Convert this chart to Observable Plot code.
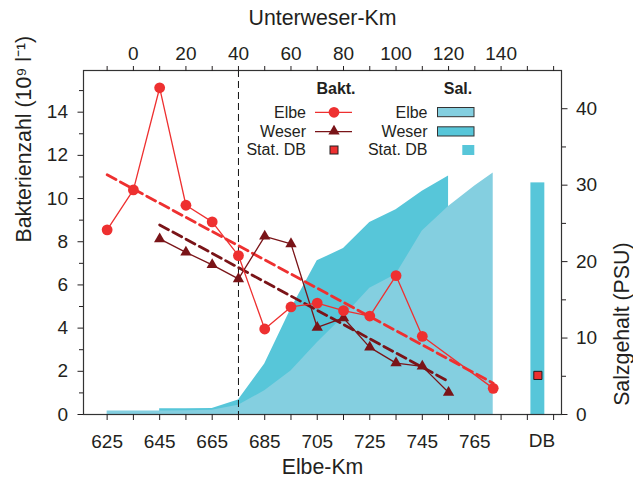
<!DOCTYPE html>
<html><head><meta charset="utf-8">
<script src="https://cdn.jsdelivr.net/npm/d3@7"></script>
<script src="https://cdn.jsdelivr.net/npm/@observablehq/plot@0.6"></script>
<style>body{margin:0;background:#fff} svg{display:block}</style>
</head><body><div id="chart"></div>
<script>
// ---- data ----
const elbeKm   = [625,635,645,655,665,675,685,695,705,715,725,735,745,772];
const elbeBakt = [8.55,10.40,15.13,9.69,8.92,7.36,3.96,4.98,5.16,4.81,4.56,6.43,3.62,1.21];
const weserKm   = [10,20,30,40,50,60,70,80,90,100,110,120];   // Unterweser-Km
const weserBakt = [8.13,7.51,6.93,6.28,8.25,7.90,4.03,4.47,3.11,2.38,2.23,1.02];
const elbeTrendKm = [625,772], elbeTrendBakt = [11.10,1.45];
const weserTrendKm = [10,120], weserTrendBakt = [8.78,1.53];
const elbeSalKm = [625,635,645,655,665,675,685,695,705,715,725,735,745,755,765,772];
const elbeSal   = [0.45,0.45,0.45,0.5,0.55,1.2,3.1,5.7,9.4,12.8,16.5,18.3,24.0,27.2,29.9,31.6];
const weserSalKm = [10,20,30,40,50,60,70,80,90,100,110,120];
const weserSal   = [0.75,0.75,0.8,1.9,6.6,13.8,20.1,21.7,25.1,26.8,29.2,31.2];
const dbSal = 30.3, dbBakt = 1.81;
const elbeTicks = [625,645,665,685,705,725,745,765];
const weserTicks = [0,20,40,60,80,100,120,140];
const psuTicks = [0,10,20,30,40];
const baktTicks = [0,2,4,6,8,10,12,14];

// ---- layout / styling ----
const WOFF = 635;          // Unterweser-Km 0 sits at Elbe-Km 635
const dbKm = 789;          // position of the station DB column
const yMax = 15.93, psuMax = 45, k = yMax/psuMax;
const RED = "#ee3030", DRED = "#7a1418", LBLUE = "#84cfe0", DBLUE = "#57c6d9", INK = "#231f20";
const FONT = "'Liberation Sans', Arial, Helvetica, sans-serif";

const elbe = elbeKm.map((x,i)=>({x, y: elbeBakt[i]}));
const weser = weserKm.map((w,i)=>({x: w+WOFF, y: weserBakt[i]}));
const elbeT = elbeTrendKm.map((x,i)=>({x, y: elbeTrendBakt[i]}));
const weserT = weserTrendKm.map((w,i)=>({x: w+WOFF, y: weserTrendBakt[i]}));
const eSal = elbeSalKm.map((x,i)=>({x, y: elbeSal[i]*k}));
const wSal = weserSalKm.map((w,i)=>({x: w+WOFF, y: weserSal[i]*k}));

const plot = Plot.plot({
  width: 633, height: 479,
  marginLeft: 83, marginRight: 72, marginTop: 70, marginBottom: 65,
  x: {domain: [616, 798]},
  y: {domain: [0, yMax]},
  style: {fontFamily: FONT, color: INK, background: "#fff"},
  marks: [
    Plot.areaY(wSal, {x: "x", y: "y", fill: DBLUE}),
    Plot.areaY(eSal, {x: "x", y: "y", fill: LBLUE}),
    Plot.rectY([dbSal], {x1: () => dbKm - 2.65, x2: () => dbKm + 2.65, y: d => d*k, fill: DBLUE}),
    Plot.ruleX([40], {x: d => d + WOFF, stroke: "#111", strokeWidth: 1, strokeDasharray: "7,4"}),
    Plot.line(elbeT, {x: "x", y: "y", stroke: RED, strokeWidth: 2.8, strokeDasharray: "10,5"}),
    Plot.line(weserT, {x: "x", y: "y", stroke: DRED, strokeWidth: 2.8, strokeDasharray: "10,5"}),
    Plot.line(weser, {x: "x", y: "y", stroke: DRED, strokeWidth: 1.3}),
    Plot.line(elbe, {x: "x", y: "y", stroke: RED, strokeWidth: 1.3}),
    Plot.dot(weser, {x: "x", y: "y", symbol: "triangle", r: 4.2, fill: DRED}),
    Plot.dot(elbe, {x: "x", y: "y", symbol: "circle", r: 5.4, fill: RED}),
    Plot.dot([dbBakt], {x: () => dbKm, y: d => d, symbol: "square", r: 4.6, fill: RED, stroke: INK, strokeWidth: 1}),
    Plot.frame({stroke: "#333", strokeWidth: 1.2}),
    // bottom axis (Elbe-Km)
    Plot.axisX({anchor: "bottom", ticks: d3.range(625, 796, 10), tickSize: 6, tickPadding: 14, fontSize: 19,
      tickFormat: d => elbeTicks.includes(d) ? String(d) : "", label: null}),
    // top axis (Unterweser-Km)
    Plot.axisX({anchor: "top", ticks: d3.range(-10, 161, 10).map(w => w + WOFF), tickSize: 5, tickPadding: 6, fontSize: 19,
      tickFormat: d => weserTicks.includes(d - WOFF) ? String(d - WOFF) : "", label: null}),
    // left axis (bacteria)
    Plot.axisY({anchor: "left", ticks: baktTicks, tickSize: 5.5, tickPadding: 10, fontSize: 19, label: null}),
    Plot.axisY({anchor: "left", ticks: [1,3,5,7,9,11,13,15], tickSize: 4, tickFormat: () => "", label: null}),
    // right axis (salinity)
    Plot.axisY({anchor: "right", ticks: psuTicks.map(v => v*k), tickSize: 5.5, tickPadding: 9, fontSize: 19,
      tickFormat: d => String(Math.round(d/k)), label: null}),
    Plot.axisY({anchor: "right", ticks: [5,15,25,35].map(v => v*k), tickSize: 4, tickFormat: () => "", label: null}),
    // titles
    Plot.text(["Unterweser-Km"], {frameAnchor: "top", dy: -52.5, fontSize: 21.3, lineAnchor: "middle", fill: INK}),
    Plot.text(["Elbe-Km"], {frameAnchor: "bottom", dy: 52.5, fontSize: 21.3, lineAnchor: "middle", fill: INK}),
    Plot.text(["Bakterienzahl (10⁹ l⁻¹)"], {frameAnchor: "left", dx: -59.5, rotate: -90, fontSize: 21.3, lineAnchor: "middle", fill: INK}),
    Plot.text(["Salzgehalt (PSU)"], {frameAnchor: "right", dx: 60.5, rotate: -90, fontSize: 21.3, lineAnchor: "middle", fill: INK}),
    Plot.text(["DB"], {x: () => dbKm, frameAnchor: "bottom", dx: 4, dy: 26, fontSize: 19, lineAnchor: "middle", fill: INK})
  ]
});
document.getElementById("chart").appendChild(plot);

// ---- legend (inside plot area) ----
const svg = d3.select(plot);
const lg = svg.append("g").attr("font-family", FONT).attr("font-size", 16).attr("fill", INK);
lg.append("text").attr("x", 336).attr("y", 94).attr("text-anchor", "middle").attr("font-weight", "bold").text("Bakt.");
lg.append("text").attr("x", 458).attr("y", 94).attr("text-anchor", "middle").attr("font-weight", "bold").text("Sal.");
const rows = [["Elbe", 117.5], ["Weser", 136.5], ["Stat. DB", 155]];
rows.forEach(([t, y]) => {
  lg.append("text").attr("x", 306).attr("y", y).attr("text-anchor", "end").text(t);
  lg.append("text").attr("x", 427.5).attr("y", y).attr("text-anchor", "end").text(t);
});
// Bakt. symbols
lg.append("line").attr("x1", 315).attr("x2", 352).attr("y1", 112.3).attr("y2", 112.3).attr("stroke", RED).attr("stroke-width", 1.3);
lg.append("circle").attr("cx", 334).attr("cy", 112.3).attr("r", 5.4).attr("fill", RED);
lg.append("line").attr("x1", 315).attr("x2", 352).attr("y1", 131.7).attr("y2", 131.7).attr("stroke", DRED).attr("stroke-width", 1.3);
lg.append("path").attr("transform", "translate(334,131.2)").attr("d", d3.symbol(d3.symbolTriangle, Math.PI*4.2*4.2)()).attr("fill", DRED);
lg.append("rect").attr("x", 330).attr("y", 146).attr("width", 8).attr("height", 8).attr("fill", RED).attr("stroke", INK).attr("stroke-width", 1);
// Sal. symbols
lg.append("rect").attr("x", 437.5).attr("y", 107.5).attr("width", 36.5).attr("height", 9.2).attr("fill", LBLUE).attr("stroke", "#333").attr("stroke-width", 1);
lg.append("rect").attr("x", 437.5).attr("y", 126.8).attr("width", 36.5).attr("height", 9.2).attr("fill", DBLUE).attr("stroke", "#333").attr("stroke-width", 1);
lg.append("rect").attr("x", 462.3).attr("y", 145).attr("width", 12).attr("height", 10).attr("fill", DBLUE);
</script></body></html>
